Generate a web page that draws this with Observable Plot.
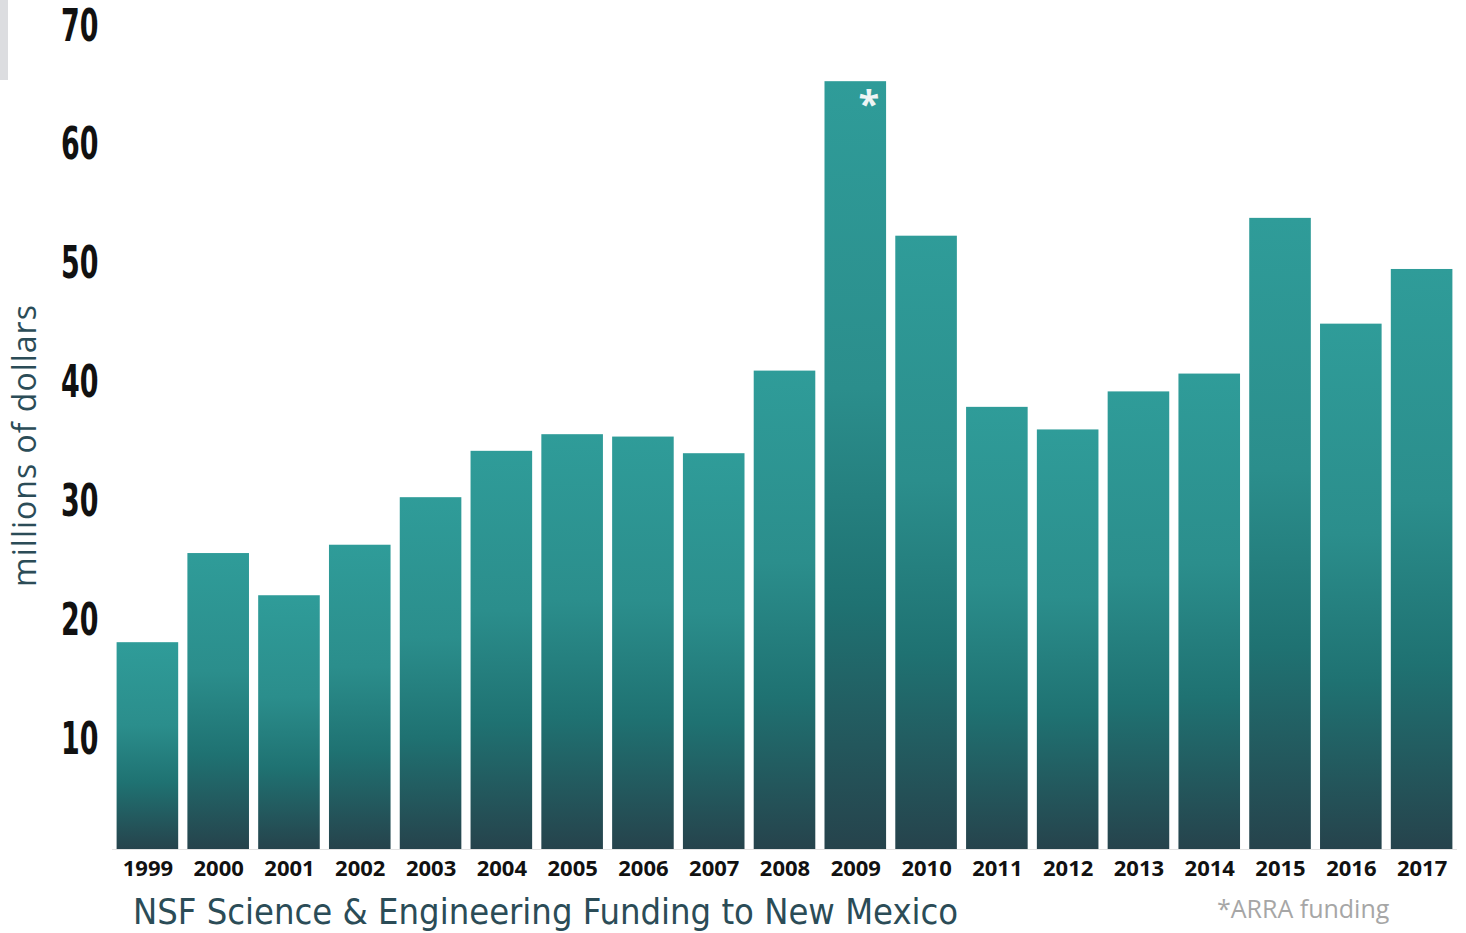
<!DOCTYPE html>
<html>
<head>
<meta charset="utf-8">
<script src="https://cdn.jsdelivr.net/npm/d3@7"></script>
<script src="https://cdn.jsdelivr.net/npm/@observablehq/plot@0.6"></script>
<style>
  html, body { margin: 0; padding: 0; background: #fff; }
  #wrap { position: relative; width: 1466px; height: 933px; overflow: hidden; }
  #corner { position: absolute; left: 0; top: 0; width: 8px; height: 80px; background: #dcdde0; }
  #title { position: absolute; left: 133px; top: 894px; font-family: "DejaVu Sans Condensed", "DejaVu Sans", sans-serif; font-stretch: condensed; font-size: 36px; color: #2b4c57; white-space: nowrap; line-height: 1; }
  #caption { position: absolute; left: 1217px; top: 896px; font-family: "Open Sans", sans-serif; font-size: 25px; color: #a6a6a6; white-space: nowrap; line-height: 1; }
</style>
</head>
<body>
<div id="wrap">
  <div id="chart"></div>
  <div id="corner"></div>
  <div id="title">NSF Science &amp; Engineering Funding to New Mexico</div>
  <div id="caption">*ARRA funding</div>
</div>
<script>
const years = ["1999","2000","2001","2002","2003","2004","2005","2006","2007","2008","2009","2010","2011","2012","2013","2014","2015","2016","2017"];
const funding = [17.4, 24.9, 21.35, 25.6, 29.6, 33.5, 34.9, 34.7, 33.3, 40.25, 64.6, 51.6, 37.2, 35.3, 38.5, 40.0, 53.1, 44.2, 48.8];
const yTicks = [10, 20, 30, 40, 50, 60, 70];
const starredYear = ["2009"];
const yLabel = "millions of dollars";

const data = years.map((y, i) => ({year: y, value: funding[i]}));
const starData = data.filter(d => starredYear.includes(d.year));

const chart = Plot.plot({
  width: 1466,
  height: 885,
  marginLeft: 112,
  marginRight: 9,
  marginTop: 17,
  marginBottom: 36,
  style: { background: "transparent", overflow: "visible" },
  x: { domain: years, paddingInner: 0.13, paddingOuter: 0.065, round: false, label: null },
  y: { domain: [0, 70], label: null },
  marks: [
    Plot.axisX({
      tickSize: 0, tickPadding: 11, label: null,
      fontSize: 22, fontWeight: 700, fontFamily: "'Open Sans', sans-serif", fill: "#111"
    }),
    Plot.axisY({
      ticks: yTicks, tickSize: 0, tickPadding: 14, label: null, dy: 9,
      fontSize: 44, fontWeight: 700,
      fontFamily: "'DejaVu Sans Condensed', 'DejaVu Sans', sans-serif",
      fill: "#111", className: "yticks"
    }),
    Plot.barY(data, { x: "year", y: "value", fill: "url(#barGrad)" }),
    Plot.ruleY([0], { stroke: "#e3e3e3", strokeWidth: 1.2 }),
    Plot.text(starData, {
      x: "year", y: "value", text: () => "*", fill: "#eef4f4",
      fontSize: 38, fontWeight: 700, fontFamily: "'Open Sans', sans-serif",
      dx: 13, dy: 24
    }),
    Plot.text([yLabel], {
      frameAnchor: "left", textAnchor: "middle", rotate: -90, dx: -87, dy: 12,
      fontSize: 32, fontFamily: "'Open Sans', sans-serif", fill: "#2b4c57",
      text: d => d
    })
  ]
});

// gradient definition
const ns = "http://www.w3.org/2000/svg";
const defs = document.createElementNS(ns, "defs");
const grad = document.createElementNS(ns, "linearGradient");
grad.setAttribute("id", "barGrad");
grad.setAttribute("x1", "0"); grad.setAttribute("y1", "0");
grad.setAttribute("x2", "0"); grad.setAttribute("y2", "1");
[["0%", "#2f9c99"], ["40%", "#2b8e8c"], ["68%", "#1f7272"], ["100%", "#26434c"]].forEach(([o, c]) => {
  const s = document.createElementNS(ns, "stop");
  s.setAttribute("offset", o); s.setAttribute("stop-color", c);
  grad.appendChild(s);
});
defs.appendChild(grad);
chart.insertBefore(defs, chart.firstChild);

// condensed look for y tick labels: horizontal squeeze around the anchor
const yTickTexts = chart.querySelectorAll("g[aria-label='y-axis tick label'] text, .yticks text");
yTickTexts.forEach(t => {
  const tr = t.getAttribute("transform");
  if (tr) {
    t.setAttribute("transform", tr + " scale(0.68,1)");
  } else {
    const x = +(t.getAttribute("x") || 0), y = +(t.getAttribute("y") || 0);
    t.removeAttribute("x"); t.removeAttribute("y");
    t.setAttribute("transform", `translate(${x},${y}) scale(0.68,1)`);
  }
});

// letter spacing for y label
chart.querySelectorAll("text").forEach(t => {
  if (t.textContent === yLabel) t.style.letterSpacing = "1px";
});

document.getElementById("chart").appendChild(chart);
</script>
</body>
</html>
